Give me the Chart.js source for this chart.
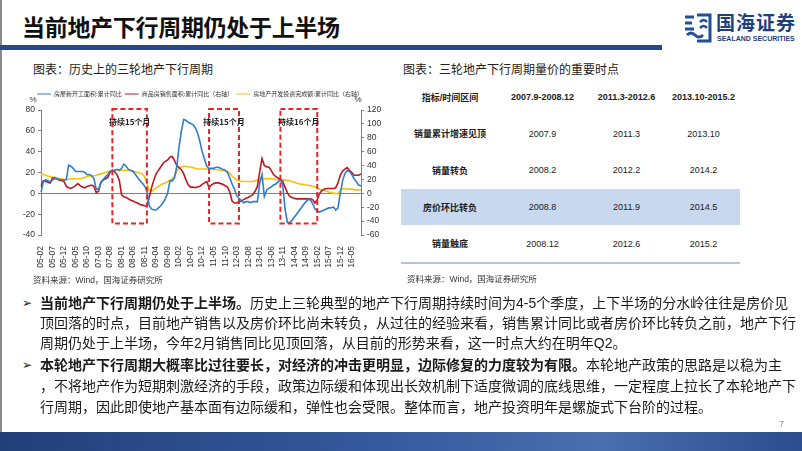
<!DOCTYPE html>
<html>
<head>
<meta charset="utf-8">
<script src="https://cdn.jsdelivr.net/npm/chart.js@4.4.0/dist/chart.umd.min.js"></script>
<style>
    body { margin: 0; width: 802px; height: 451px; overflow: hidden; background: #fff; position: relative;
           font-family: "Liberation Sans", "Noto Sans CJK SC", sans-serif; color: #222; }
    .abs { position: absolute; white-space: nowrap; }
    .frame { position: absolute; left: 0; top: 0; width: 2px; height: 432px; background: #8a8a8a; }
    .title { left: 22px; top: 9px; font-family: "Noto Sans CJK SC"; font-weight: 700; font-size: 23px; color: #111; letter-spacing: -0.3px; }
    .bar { position: absolute; left: 0; top: 45px; width: 662px; height: 5px; background: #24488a; }
    .caption { font-family: "Noto Sans CJK SC"; font-size: 12px; color: #222; }
    .source { font-size: 8.5px; color: #333; }
    #chartBox { position: absolute; left: 0; top: 80px; width: 400px; height: 205px; }
    table { position: absolute; left: 401px; top: 79px; border-collapse: collapse; table-layout: fixed; width: 339px;
            font-size: 9px; }
    td { text-align: center; height: 36.6px; padding: 0; }
    td.h { font-weight: 700; }
    tr.hl td { background: #c7d8ef; }
    tr.last td { border-bottom: 2px solid #b3c2d8; }
    .ln { left: 40px; font-size: 14px; line-height: 20px; color: #1a1a1a; }
    .ln b { font-weight: 700; }
    .bullet { left: 22px; font-family: "DejaVu Sans"; font-size: 12px; line-height: 20px; color: #222; }
    .footer { position: absolute; left: 0; top: 432px; width: 802px; height: 19px;
              background: linear-gradient(90deg, #233f78 0%, #35589a 45%, #4a6eae 75%, #2d4d8c 100%); }
</style>
</head>
<body>
<div class="frame"></div>
<div class="abs title">当前地产下行周期仍处于上半场</div>
<div class="bar"></div>

<!-- logo -->
<svg class="abs" style="left:682px;top:12px" width="32" height="32" viewBox="0 0 32 32">
    <path d="M3 5 H12 M3 11 H10 M3 17 H12 M5 23 Q9 19 13 23 T21 23" stroke="#1f4f9a" stroke-width="3" fill="none"/>
    <path d="M15 3 H28 V29 H15" stroke="#1f4f9a" stroke-width="3" fill="none"/>
    <path d="M18 10 Q22 6 25 10 M18 16 Q22 12 25 16" stroke="#1f4f9a" stroke-width="2.5" fill="none"/>
</svg>
<div class="abs" style="left:716px;top:11px;font-family:'Noto Sans CJK SC';font-weight:700;font-size:19px;color:#1f3f7c;line-height:22px;letter-spacing:1px">国海证券</div>
<div class="abs" style="left:717px;top:35px;font-weight:700;font-size:7px;color:#1f3f7c;line-height:8px">SEALAND SECURITIES</div>

<div class="abs caption" style="left:33px;top:60px">图表：历史上的三轮地产下行周期</div>
<div class="abs caption" style="left:403px;top:60px">图表：三轮地产下行周期量价的重要时点</div>

<div id="chartBox"><canvas id="cycleChart"></canvas></div>
<div class="abs source" style="left:33px;top:273px">资料来源：Wind，国海证券研究所</div>

<table>
    <colgroup><col style="width:98px"><col style="width:87px"><col style="width:81px"><col style="width:73px"></colgroup>
    <tr><td class="h">指标/时间区间</td><td class="h">2007.9-2008.12</td><td class="h">2011.3-2012.6</td><td class="h">2013.10-2015.2</td></tr>
    <tr><td class="h">销量累计增速见顶</td><td>2007.9</td><td>2011.3</td><td>2013.10</td></tr>
    <tr><td class="h">销量转负</td><td>2008.2</td><td>2012.2</td><td>2014.2</td></tr>
    <tr class="hl"><td class="h">房价环比转负</td><td>2008.8</td><td>2011.9</td><td>2014.5</td></tr>
    <tr class="last"><td class="h">销量触底</td><td>2008.12</td><td>2012.6</td><td>2015.2</td></tr>
</table>
<div class="abs source" style="left:407px;top:272px">资料来源：Wind，国海证券研究所</div>

<div class="abs bullet" style="top:293px">➢</div>
<div class="abs ln" style="top:293px"><b>当前地产下行周期仍处于上半场。</b>历史上三轮典型的地产下行周期持续时间为4-5个季度，上下半场的分水岭往往是房价见</div>
<div class="abs ln" style="top:313px">顶回落的时点，目前地产销售以及房价环比尚未转负，从过往的经验来看，销售累计同比或者房价环比转负之前，地产下行</div>
<div class="abs ln" style="top:333px">周期仍处于上半场，今年2月销售同比见顶回落，从目前的形势来看，这一时点大约在明年Q2。</div>
<div class="abs bullet" style="top:355px">➢</div>
<div class="abs ln" style="top:355px"><b>本轮地产下行周期大概率比过往要长，对经济的冲击更明显，边际修复的力度较为有限。</b>本轮地产政策的思路是以稳为主</div>
<div class="abs ln" style="top:376px">，不将地产作为短期刺激经济的手段，政策边际缓和体现出长效机制下适度微调的底线思维，一定程度上拉长了本轮地产下</div>
<div class="abs ln" style="top:397px">行周期，因此即使地产基本面有边际缓和，弹性也会受限。整体而言，地产投资明年是螺旋式下台阶的过程。</div>

<div class="abs" style="left:779px;top:419px;font-size:9px;color:#888">7</div>
<div class="footer"></div>

<script>
// monthly categories 2005-02 .. 2016-09
const months = [];
for (let y = 2005; y <= 2016; y++) {
    for (let m = 1; m <= 12; m++) {
        if (y === 2005 && m < 2) continue;
        if (y === 2016 && m > 9) break;
        months.push(String(y).slice(2) + '-' + String(m).padStart(2, '0'));
    }
}

// labels shown on the x axis
const tickLabels = ['05-02', '05-07', '05-12', '06-05', '06-10', '07-03', '07-08', '08-01', '08-06', '08-11',
    '09-04', '09-09', '10-02', '10-07', '10-12', '11-05', '11-10', '12-03', '12-08', '13-01',
    '13-06', '13-11', '14-04', '14-09', '15-02', '15-07', '15-12', '16-05'];

const seriesNames = ['房屋新开工面积:累计同比', '商品房销售面积:累计同比（右轴）', '房地产开发投资完成额:累计同比（右轴）'];

// 房屋新开工面积:累计同比 (left axis)
const newStarts = [
    1, 11, 13, 12, 11, 13, 14, 14, 13, 13,
    13, 13, 27, 26, 24, 21, 21, 21, 21, 20,
    18, 18, 17, 14, 4, 4, 10, 13, 16, 18,
    21, 22, 22, 23, 22, 24, 28, 26, 23, 22,
    21, 18, 15, 12, 10, 7, 2, -12, -15, -16,
    -16, -14, -12, -9, -5, 0, 12, 12, 15, 26,
    45, 60, 71, 70, 68, 67, 66, 63, 58, 50,
    40, 33, 26, 24, 24, 24, 25, 25, 24, 23,
    22, 20, 15, 9, 4, -2, -5, -7, -9, -8,
    -8, -9, -8, -8, -8, 10, 18, -3, 3, 5,
    6, 8, 9, 11, 13, 8, -15, -28, -28, -26,
    -23, -20, -17, -14, -11, -8, -6, -6, -10, -15,
    -17, -18, -17, -16, -15, -14, -14, -13, -16, -14,
    0, 12, 19, 22, 21, 18, 14, 11, 8, 7
];

// 商品房销售面积:累计同比 (right axis)
const salesArea = [
    10, 18, 17, 16, 15, 22, 22, 21, 19, 18,
    17, 10, 8, 7, 9, 11, 14, 11, 9, 8,
    10, 11, 12, 10, 1, 3, 16, 19, 21, 23,
    30, 33, 31, 27, 19, -2, -5, -6, -8, -10,
    -11, -13, -14, -16, -17, -18, -19, -6, 8, 19,
    28, 33, 38, 43, 46, 48, 52, 53, 47, 40,
    37, 34, 28, 19, 12, 9, 9, 8, 9, 10,
    13, 15, 17, 8, 12, 14, 15, 15, 14, 13,
    11, 9, 2, -11, -14, -14, -12, -11, -9, -7,
    -6, -4, -2, 3, 10, 31, 50, 40, 38, 38,
    33, 27, 24, 22, 20, 17, 9, 1, -4, -6,
    -7, -8, -8, -8, -8, -8, -8, -8, -9, -14,
    -9, 0, 4, 6, 7, 7, 7, 7, 8, 15,
    26, 32, 35, 37, 33, 30, 26, 26, 26, 28
];

// 房地产开发投资完成额:累计同比 (right axis)
const investment = [
    28, 27, 26, 25, 24, 23, 23, 22, 21, 21,
    20, 20, 20, 21, 21, 21, 21, 21, 22, 23,
    24, 25, 25, 25, 26, 27, 28, 29, 30, 31,
    32, 33, 33, 33, 33, 33, 33, 33, 33, 33,
    32, 31, 30, 29, 28, 24, 15, 4, 3, 5,
    8, 10, 12, 14, 15, 17, 19, 21, 25, 32,
    37, 38, 39, 39, 38, 38, 37, 36, 35, 35,
    35, 35, 35, 35, 35, 34, 34, 34, 33, 33,
    33, 32, 29, 25, 22, 19, 18, 17, 17, 17,
    17, 17, 17, 18, 19, 20, 21, 21, 21, 21,
    21, 21, 20, 20, 20, 20, 19, 19, 18, 17,
    16, 15, 14, 13, 13, 12, 12, 11, 10, 9,
    8, 6, 5, 4, 3, 2, 1, 0, 0, -1,
    4, 7, 7, 6, 6, 6, 5, 5, 5, 5
];

// downturn periods marked with dashed boxes
const cycleStart = ['07-09', '11-03', '13-10'];
const cycleEnd = ['08-12', '12-04', '15-02'];
const cycleText = ['持续15个月', '持续15个月', '持续16个月'];

const gray = '#808080';

// leave a gap between the legend and the plot
const legendGap = {
    id: 'legendGap',
    beforeInit(chart) {
        const fit = chart.legend.fit;
        chart.legend.fit = function () {
            fit.bind(chart.legend)();
            this.height += 3;
        };
    }
};

const overlayPlugin = {
    id: 'overlay',
    afterDatasetsDraw(chart) {
        const ctx = chart.ctx;
        const x = chart.scales.x;
        const yL = chart.scales.yL;
        const yR = chart.scales.yR;
        const area = chart.chartArea;
        ctx.save();
        // dashed boxes
        ctx.strokeStyle = '#e4262c';
        ctx.lineWidth = 2;
        ctx.setLineDash([5, 3]);
        cycleStart.forEach((s, k) => {
            const x0 = x.getPixelForValue(months.indexOf(s));
            const x1 = x.getPixelForValue(months.indexOf(cycleEnd[k]));
            const y0 = yL.getPixelForValue(81);
            const y1 = yL.getPixelForValue(-29);
            ctx.strokeRect(x0, y0, x1 - x0, y1 - y0);
            ctx.fillStyle = '#222';
            ctx.font = 'bold 8px "Noto Sans CJK SC"';
            ctx.textAlign = 'center';
            ctx.textBaseline = 'middle';
            ctx.fillText(cycleText[k], (x0 + x1) / 2, y0 + 13);
        });
        // unit marks
        ctx.setLineDash([]);
        ctx.fillStyle = '#333';
        ctx.font = '8px "Liberation Sans"';
        ctx.textAlign = 'center';
        ctx.fillText('%', yL.right - 8, area.top - 10);
        ctx.fillText('%', yR.left - 3, area.top - 10);
        ctx.restore();
    }
};

const ctx = document.getElementById('cycleChart').getContext('2d');
Chart.defaults.font.family = '"Liberation Sans", "Noto Sans CJK SC", sans-serif';
Chart.defaults.color = '#333';

const cycleChart = new Chart(ctx, {
    type: 'line',
    data: {
        labels: months,
        datasets: [{
            label: seriesNames[0],
            data: newStarts,
            borderColor: '#2f7dcc',
            yAxisID: 'yL'
        }, {
            label: seriesNames[1],
            data: salesArea,
            borderColor: '#c0161e',
            yAxisID: 'yR'
        }, {
            label: seriesNames[2],
            data: investment,
            borderColor: '#f6c20a',
            yAxisID: 'yR'
        }]
    },
    options: {
        responsive: true,
        maintainAspectRatio: false,
        animation: false,
        elements: {
            point: { radius: 0 },
            line: { borderWidth: 1.6, tension: 0 }
        },
        layout: { padding: { top: 8, left: 0, right: 0, bottom: 0 } },
        plugins: {
            tooltip: { enabled: false },
            legend: {
                position: 'top',
                labels: {
                    usePointStyle: true,
                    pointStyle: 'line',
                    pointStyleWidth: 14,
                    boxHeight: 6,
                    padding: 3,
                    color: '#333',
                    font: { size: 6, family: '"Noto Sans CJK SC"' }
                }
            }
        },
        scales: {
            x: {
                grid: { display: false },
                border: { display: false },
                ticks: {
                    autoSkip: false,
                    maxRotation: 90,
                    minRotation: 90,
                    padding: 3,
                    font: { size: 8.5 },
                    callback: function (v, i) {
                        return tickLabels.includes(months[i]) ? months[i] : null;
                    }
                },
                afterFit: s => { s.height = 50; }
            },
            yL: {
                position: 'left',
                min: -40,
                max: 80,
                ticks: { stepSize: 20, padding: 3, font: { size: 8.5 } },
                border: { color: gray },
                grid: {
                    color: c => (c.tick && c.tick.value === 0 ? gray : 'rgba(0,0,0,0)'),
                    tickColor: gray,
                    tickLength: 3
                },
                afterFit: s => { s.width = 41; }
            },
            yR: {
                position: 'right',
                min: -60,
                max: 120,
                ticks: { stepSize: 20, padding: 3, font: { size: 8.5 } },
                border: { color: gray },
                grid: { drawOnChartArea: false, tickColor: gray, tickLength: 3 },
                afterFit: s => { s.width = 39; }
            }
        }
    },
    plugins: [legendGap, overlayPlugin]
});
</script>
</body>
</html>
